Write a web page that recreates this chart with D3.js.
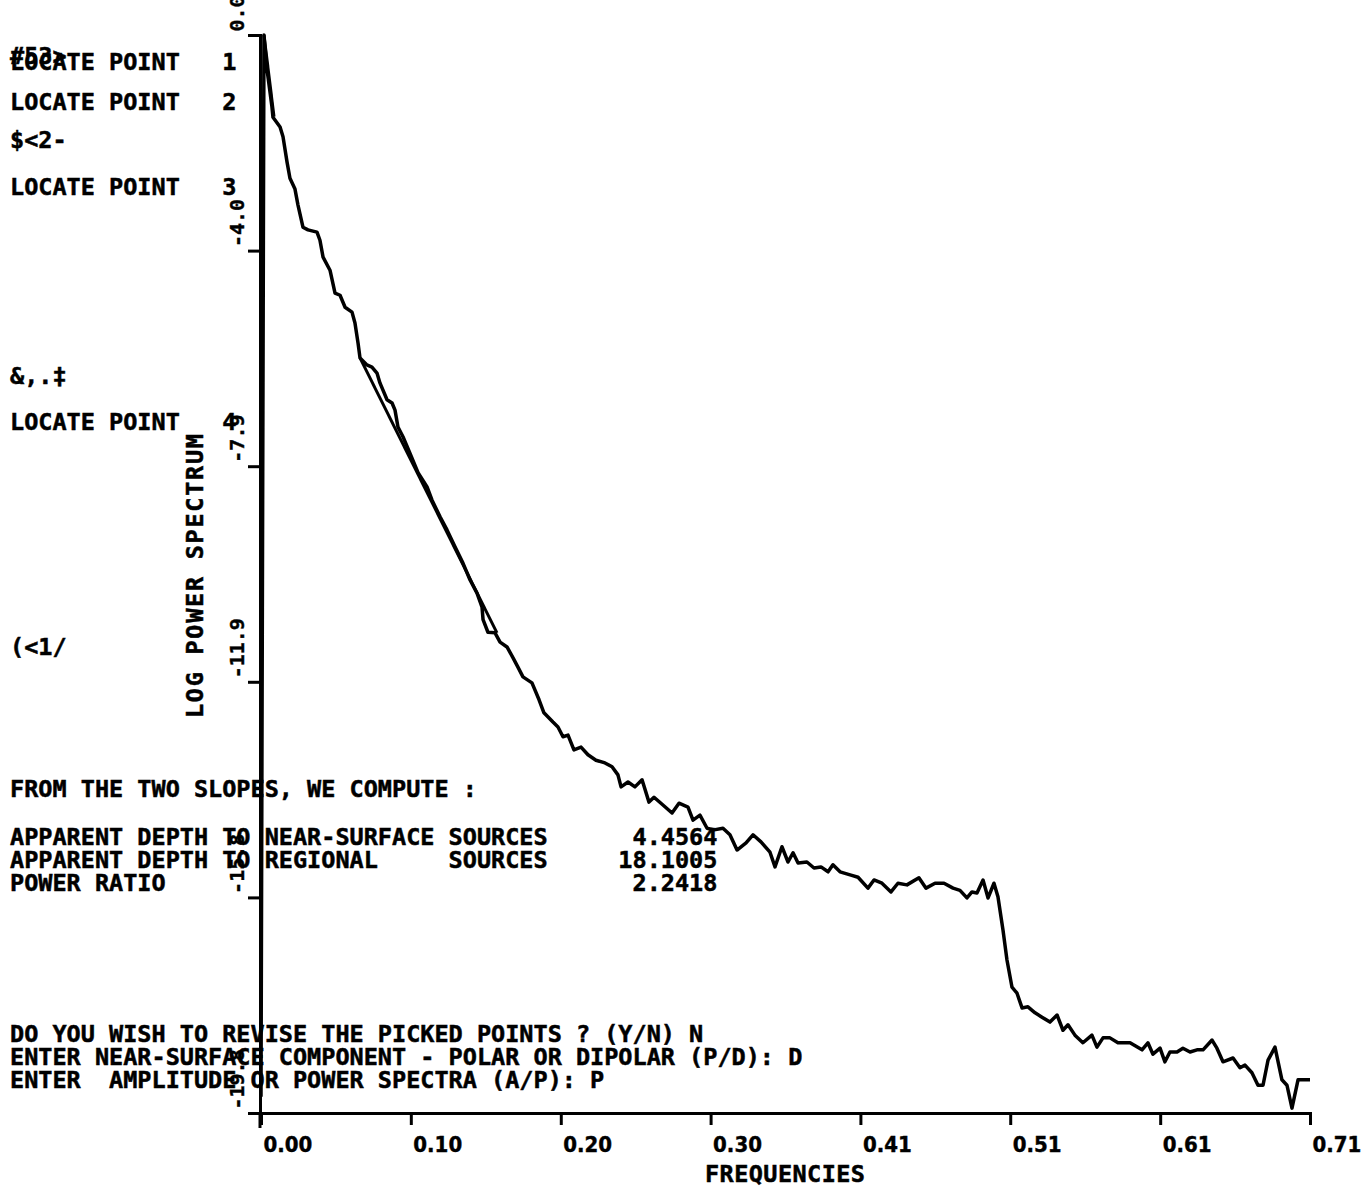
<!DOCTYPE html>
<html>
<head>
<meta charset="utf-8">
<script src="https://cdn.jsdelivr.net/npm/d3@7"></script>
<style>
	body { margin: 0; background: #fff; }
	svg { display: block; }
	.term { font-family: "DejaVu Sans Mono", monospace; font-weight: bold; font-size: 23.5px; white-space: pre; fill: #000; stroke: #000; stroke-width: 0.5; }
	.axis path, .axis line { stroke: #000; stroke-width: 3; }
	.axis text { font-family: "DejaVu Sans Condensed", "DejaVu Sans", sans-serif; font-weight: bold; fill: #000; stroke: #000; stroke-width: 0.4; }
</style>
</head>
<body>
<svg class="specGraph" width="1367" height="1189"></svg>
<script>
// Spectrum (frequency, log power)
var freq = [0, 0.0020, 0.0041, 0.0074, 0.0081, 0.0129, 0.0149, 0.0176, 0.0196, 0.0230,
	0.0250, 0.0284, 0.0318, 0.0379, 0.0399, 0.0420, 0.0467, 0.0501, 0.0535, 0.0569,
	0.0616, 0.0636, 0.0657, 0.0670, 0.0717, 0.0751, 0.0785, 0.0805, 0.0853, 0.0887,
	0.0907, 0.0927, 0.0961, 0.1008, 0.1063, 0.1124, 0.1157, 0.1212, 0.1259, 0.1313,
	0.1367, 0.1415, 0.1462, 0.1496, 0.1503, 0.1536, 0.1584, 0.1618, 0.1665, 0.1706,
	0.1739, 0.1773, 0.1834, 0.1882, 0.1915, 0.1976, 0.2010, 0.2044, 0.2078, 0.2118,
	0.2166, 0.2213, 0.2267, 0.2328, 0.2376, 0.2416, 0.2437, 0.2484, 0.2531, 0.2579,
	0.2626, 0.2660, 0.2707, 0.2782, 0.2829, 0.2890, 0.2924, 0.2971, 0.3019, 0.3066,
	0.3127, 0.3174, 0.3222, 0.3283, 0.3330, 0.3384, 0.3445, 0.3479, 0.3526, 0.3567,
	0.3601, 0.3635, 0.3695, 0.3743, 0.3790, 0.3838, 0.3871, 0.3919, 0.3993, 0.4041,
	0.4108, 0.4149, 0.4203, 0.4264, 0.4311, 0.4372, 0.4453, 0.4501, 0.4562, 0.4623,
	0.4684, 0.4731, 0.4778, 0.4812, 0.4846, 0.4887, 0.4921, 0.4961, 0.4988, 0.5022,
	0.5049, 0.5083, 0.5117, 0.5151, 0.5191, 0.5239, 0.5286, 0.5340, 0.5388, 0.5428,
	0.5462, 0.5509, 0.5563, 0.5624, 0.5658, 0.5699, 0.5746, 0.5800, 0.5834, 0.5882,
	0.5963, 0.6003, 0.6037, 0.6085, 0.6118, 0.6152, 0.6200, 0.6240, 0.6288, 0.6335,
	0.6376, 0.6437, 0.6470, 0.6511, 0.6579, 0.6626, 0.6660, 0.6707, 0.6748, 0.6782,
	0.6816, 0.6863, 0.6910, 0.6944, 0.6978, 0.7019, 0.7100];

var logPower = [-19.5, 0, -0.64, -1.32, -1.51, -1.69, -1.87, -2.33, -2.63, -2.83,
	-3.12, -3.53, -3.58, -3.62, -3.77, -4.08, -4.32, -4.74, -4.78, -5.00,
	-5.09, -5.29, -5.66, -5.93, -6.06, -6.10, -6.21, -6.39, -6.70, -6.76,
	-6.89, -7.20, -7.38, -7.68, -8.04, -8.30, -8.54, -8.85, -9.09, -9.40,
	-9.70, -10.01, -10.25, -10.51, -10.74, -10.97, -10.98, -11.15, -11.24, -11.44,
	-11.61, -11.79, -11.90, -12.21, -12.45, -12.62, -12.71, -12.89, -12.86, -13.13,
	-13.08, -13.22, -13.32, -13.37, -13.44, -13.59, -13.81, -13.72, -13.81, -13.68,
	-14.09, -14.00, -14.11, -14.29, -14.11, -14.18, -14.42, -14.33, -14.57, -14.60,
	-14.57, -14.69, -14.97, -14.84, -14.69, -14.82, -15.01, -15.28, -14.91, -15.19,
	-15.02, -15.21, -15.19, -15.30, -15.28, -15.37, -15.24, -15.37, -15.43, -15.47,
	-15.67, -15.52, -15.58, -15.74, -15.58, -15.61, -15.48, -15.67, -15.58, -15.58,
	-15.67, -15.71, -15.85, -15.74, -15.76, -15.52, -15.85, -15.58, -15.83, -16.44,
	-16.99, -17.49, -17.60, -17.87, -17.85, -17.96, -18.04, -18.13, -18.00, -18.28,
	-18.18, -18.37, -18.51, -18.37, -18.59, -18.42, -18.42, -18.51, -18.51, -18.51,
	-18.64, -18.51, -18.72, -18.61, -18.86, -18.68, -18.68, -18.61, -18.68, -18.64,
	-18.64, -18.46, -18.61, -18.86, -18.79, -18.97, -18.92, -19.06, -19.29, -19.29,
	-18.83, -18.59, -19.19, -19.29, -19.71, -19.19, -19.19];

// The two picked slopes (straight fits)
var fitFreq = [[0.0020, 0.0088], [0.0670, 0.1597]];
var fitPower = [[0.0, -1.50], [-5.93, -10.98]];

// Axis ticks
var xTicks = [0, 0.1014, 0.2029, 0.3043, 0.4057, 0.5071, 0.6086, 0.71];
var xTickLabels = ["0.00", "0.10", "0.20", "0.30", "0.41", "0.51", "0.61", "0.71"];
var yTicks = [0, -3.96, -7.92, -11.88, -15.84, -19.8];
var yTickLabels = ["0.0", "-4.0", "-7.9", "-11.9", "-15.8", "-19.8"];

// Terminal text printed over the plot
var consoleLines = [
	"LOCATE POINT   1",
	"LOCATE POINT   2",
	"$<2-",
	"LOCATE POINT   3",
	"&,.\u2021",
	"LOCATE POINT   4",
	"(<1/",
	"FROM THE TWO SLOPES, WE COMPUTE :",
	"APPARENT DEPTH TO NEAR-SURFACE SOURCES      4.4564",
	"APPARENT DEPTH TO REGIONAL     SOURCES     18.1005",
	"POWER RATIO                                 2.2418",
	"DO YOU WISH TO REVISE THE PICKED POINTS ? (Y/N) N",
	"ENTER NEAR-SURFACE COMPONENT - POLAR OR DIPOLAR (P/D): D",
	"ENTER  AMPLITUDE OR POWER SPECTRA (A/P): P"
];
var overprint = "#53>";
var xTitle = "FREQUENCIES";
var yTitle = "LOG POWER SPECTRUM";

var spec_screen = {
	svg:		null,
	xScale:		null,
	yScale:		null,
	left:		261,
	right:		1310,
	top:		35,
	bottom:		1113,
	rows:		[70, 110, 148, 195, 384, 430, 655, 797, 845, 868, 891, 1042, 1065, 1088],

	setup: function() {
		this.svg = d3.select(".specGraph");
		this.xScale = d3.scaleLinear()
			.domain([0, 0.71])
			.range([this.left, this.right]);
		this.yScale = d3.scaleLinear()
			.domain([0, -19.8])
			.range([this.top, this.bottom]);
	},

	draw: function() {
		var svg = this.svg;
		svg.append("rect").attr("width", 1367).attr("height", 1189).attr("fill", "#fff");

		// y axis, labels turned to read upward
		var yAxis = svg.append("g")
			.attr("class", "axis yAxis")
			.attr("transform", "translate(260,0)")
			.call(d3.axisLeft(this.yScale)
				.tickValues(yTicks)
				.tickSizeOuter(0)
				.tickSize(12)
				.tickFormat(function(d, i) { return yTickLabels[i]; }));
		yAxis.selectAll("text")
			.attr("transform", "rotate(-90)")
			.attr("x", 4)
			.attr("y", -16)
			.attr("dy", 0)
			.style("text-anchor", "start")
			.style("font-family", "'DejaVu Sans Mono', monospace")
			.style("font-size", "20px");
		yAxis.append("line")
			.attr("x1", 0).attr("x2", 0)
			.attr("y1", this.bottom).attr("y2", this.bottom + 15);

		// x axis
		var xAxis = svg.append("g")
			.attr("class", "axis xAxis")
			.attr("transform", "translate(0," + this.bottom + ")")
			.call(d3.axisBottom(this.xScale)
				.tickValues(xTicks)
				.tickSizeOuter(0)
				.tickSize(12)
				.tickFormat(function(d, i) { return xTickLabels[i]; }));
		xAxis.selectAll("text")
			.attr("x", 2)
			.attr("y", 39)
			.attr("dy", 0)
			.style("text-anchor", "start")
			.style("font-size", "22px");

		// spectrum curve
		var line = d3.line()
			.x(function(d) { return spec_screen.xScale(d[0]); })
			.y(function(d) { return spec_screen.yScale(d[1]); });

		svg.append("path")
			.datum(d3.zip(freq, logPower))
			.attr("class", "spectrum")
			.attr("fill", "none")
			.attr("stroke", "#000")
			.attr("stroke-width", 3.5)
			.attr("stroke-linejoin", "round")
			.attr("d", line);

		// picked slopes
		svg.selectAll(".fit")
			.data(fitFreq)
			.enter().append("path")
			.attr("class", "fit")
			.attr("fill", "none")
			.attr("stroke", "#000")
			.attr("stroke-width", 3)
			.attr("d", function(d, i) { return line(d3.zip(d, fitPower[i])); });

		// axis titles
		svg.append("text")
			.attr("class", "term")
			.attr("x", 705)
			.attr("y", 1182)
			.attr("textLength", 160)
			.text(xTitle);
		svg.append("text")
			.attr("class", "term")
			.attr("transform", "translate(203,718) rotate(-90)")
			.attr("textLength", 284)
			.text(yTitle);

		// terminal dialogue
		svg.append("text")
			.attr("class", "term")
			.attr("x", 10)
			.attr("y", 64)
			.text(overprint);
		svg.selectAll(".line")
			.data(consoleLines)
			.enter().append("text")
			.attr("class", "term line")
			.attr("x", 10)
			.attr("y", function(d, i) { return spec_screen.rows[i]; })
			.text(function(d) { return d; });
	}
};

spec_screen.setup();
spec_screen.draw();
</script>
</body>
</html>
